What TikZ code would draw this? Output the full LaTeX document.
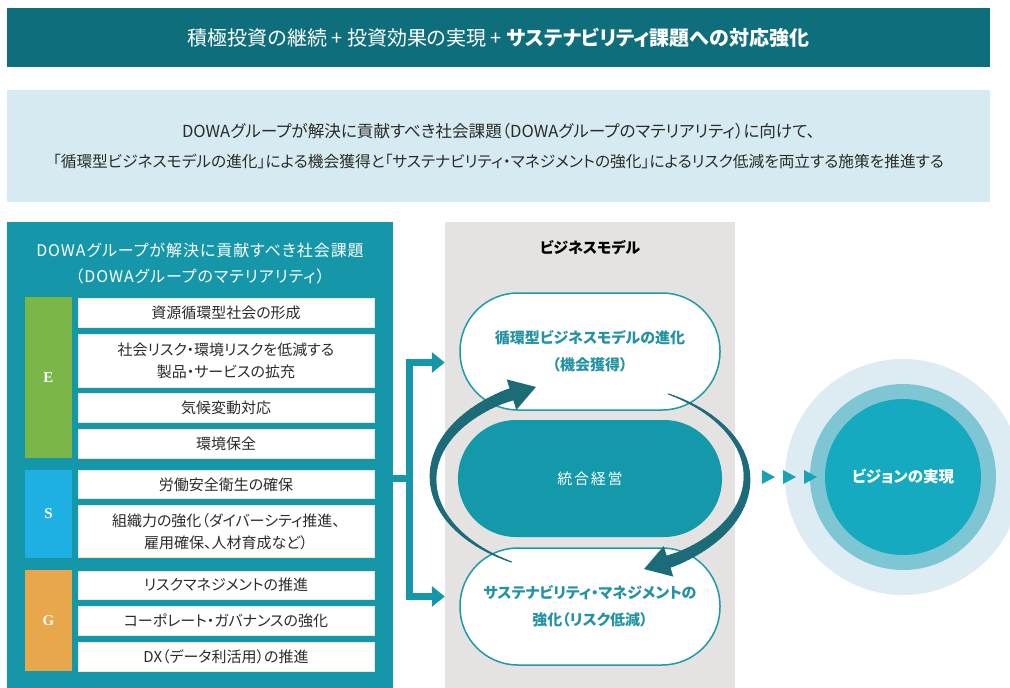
\documentclass[tikz,border=0pt]{standalone}
\usepackage{fontspec}
\setmainfont{Noto Sans CJK JP}[RawFeature=+palt]
\newfontfamily\esgfont{Liberation Serif}
\usetikzlibrary{arrows.meta,calc}
\definecolor{bannerc}{HTML}{0F6E7B}
\definecolor{introc}{HTML}{D6EBF1}
\definecolor{panelc}{HTML}{1597A9}
\definecolor{ec}{HTML}{7AB648}
\definecolor{sc}{HTML}{1FB0E3}
\definecolor{gc}{HTML}{E8A74B}
\definecolor{grayc}{HTML}{E4E3E1}
\definecolor{midc}{HTML}{1399AA}
\definecolor{stadline}{HTML}{1E9AAB}
\definecolor{stadtext}{HTML}{2392A3}
\definecolor{arrowc}{HTML}{1C6B79}
\definecolor{tric}{HTML}{17A3B5}
\definecolor{vout}{HTML}{DCECF2}
\definecolor{vmid}{HTML}{7FC6D4}
\definecolor{vin}{HTML}{15AABF}
\definecolor{ink}{HTML}{2B2B2B}
\definecolor{itemline}{HTML}{EDE9CF}
\tikzset{
  item/.style={draw=itemline, line width=0.8pt, fill=white, minimum width=296, inner sep=0, text=ink, font=\fontsize{15}{22}\selectfont, align=center},
  catbar/.style={fill=#1, minimum width=47, inner sep=0, text=white, font=\esgfont\bfseries\fontsize{15}{15}\selectfont},
  stad/.style={draw=stadline, line width=1.5pt, fill=white, minimum width=260, minimum height=117, rounded corners=58pt, inner sep=0, text=stadtext, font=\bfseries\fontsize{15}{27}\selectfont, align=center},
  conn/.style={draw=panelc, line width=7pt},
}
\begin{document}
\begin{tikzpicture}[x=1pt,y=-1pt]
\useasboundingbox (0,0) rectangle (1010,688);
\fill[white] (0,0) rectangle (1010,688);
% banner
\node[fill=bannerc, minimum width=983, minimum height=59, inner sep=0, text=white, font=\fontsize{20}{24}\selectfont] (banner) at (498.5,37.5) {積極投資の継続 + 投資効果の実現 + \textbf{サステナビリティ課題への対応強化}};
% intro
\node[fill=introc, minimum width=983, minimum height=112, inner sep=0, text=ink, align=center, font=\fontsize{16.6}{30}\selectfont] (intro) at (498.5,146) {DOWAグループが解決に貢献すべき社会課題（DOWAグループのマテリアリティ）に向けて、\\{\fontsize{15.7}{30}\selectfont「循環型ビジネスモデルの進化」による機会獲得と「サステナビリティ・マネジメントの強化」によるリスク低減を両立する施策を推進する}};
% left panel
\node[fill=panelc, minimum width=386, minimum height=466, inner sep=0] (lp) at (200,455) {};
\node[text=white, align=center, font=\fontsize{16}{26}\selectfont\addfontfeatures{LetterSpace=6}] (lptitle) at (200,263.5) {DOWAグループが解決に貢献すべき社会課題\\（DOWAグループのマテリアリティ）};
\node[catbar=ec, minimum height=161] (E) at (48.5,377.5) {E};
\node[catbar=sc, minimum height=88] (S) at (48.5,513.5) {S};
\node[catbar=gc, minimum height=101] (G) at (48.5,620.5) {G};
\node[item, minimum height=29] (e1) at (226,312.5) {資源循環型社会の形成};
\node[item, minimum height=53] (e2) at (226,360.5) {社会リスク・環境リスクを低減する\\製品・サービスの拡充};
\node[item, minimum height=29] (e3) at (226,407.5) {気候変動対応};
\node[item, minimum height=29] (e4) at (226,443.5) {環境保全};
\node[item, minimum height=28] (s1) at (226,484.5) {労働安全衛生の確保};
\node[item, minimum height=52] (s2) at (226,531.5) {組織力の強化（ダイバーシティ推進、\\雇用確保、人材育成など）};
\node[item, minimum height=28] (g1) at (226,585) {リスクマネジメントの推進};
\node[item, minimum height=29] (g2) at (226,620.5) {コーポレート・ガバナンスの強化};
\node[item, minimum height=29] (g3) at (226,656.5) {DX（データ利活用）の推進};
% business model panel
\node[fill=grayc, minimum width=290, minimum height=466, inner sep=0] (bm) at (590,455) {};
\node[font=\bfseries\fontsize{15}{18}\selectfont, text=black] (bmtitle) at (590,248) {ビジネスモデル};
\node[stad] (opp) at (590,351.5) {循環型ビジネスモデルの進化\\（機会獲得）};
\node[fill=midc, minimum width=264, minimum height=117, rounded corners=58pt, inner sep=0, text=white, font=\fontsize{15}{18}\selectfont\addfontfeatures{LetterSpace=12}] (mgmt) at (590,478.5) {統合経営};
\node[stad] (risk) at (590,606.5) {サステナビリティ・マネジメントの\\強化（リスク低減）};
% connectors from left panel
\coordinate (j) at ($(lp.east |- mgmt.center)+(16,0)$);
\coordinate (jt) at ($(j)+(0,-116)$);
\coordinate (jb) at ($(j)+(0,118)$);
\draw[conn] (lp.east |- mgmt.center) -- (j);
\draw[conn, {Triangle[length=13pt 0 0,width=20pt 0 0]}-{Triangle[length=13pt 0 0,width=20pt 0 0]}] (bm.west |- jt) -- (jt) -- (jb) -- (bm.west |- jb);
% circular tapered arrows
\foreach \s in {120,-60}{
  \foreach \i in {0,...,59}{
    \pgfmathsetmacro\ta{\s+2*\i}
    \pgfmathsetmacro\tb{\ta+2.3}
    \pgfmathsetmacro\w{1.2+10.8*\i/59}
    \draw[arrowc, line width=\w pt, line cap=round] ({590+157*cos(\ta)},{478+97*sin(\ta)}) -- ({590+157*cos(\tb)},{478+97*sin(\tb)});
  }
  \pgfmathsetmacro\ha{\s+116}
  \pgfmathsetmacro\hb{\s+130}
  \draw[arrowc, line width=12pt, -{Triangle[length=26pt 0 0,width=30pt 0 0]}] ({590+157*cos(\ha)},{478+97*sin(\ha)}) -- ({590+157*cos(\hb)},{478+97*sin(\hb)});
}
% vision
\node[circle, fill=vout, minimum size=236, inner sep=0] (vo) at (903,477) {};
\node[circle, fill=vmid, minimum size=186, inner sep=0] (vm) at (vo) {};
\node[circle, fill=vin, minimum size=156, inner sep=0, text=white, font=\bfseries\fontsize{15.5}{18}\selectfont] (vision) at (vo) {ビジョンの実現};
% triple triangles
\foreach \x in {762,783,804}
  \fill[tric] (\x,470) -- (\x+13,477) -- (\x,484) -- cycle;
\end{tikzpicture}
\end{document}
